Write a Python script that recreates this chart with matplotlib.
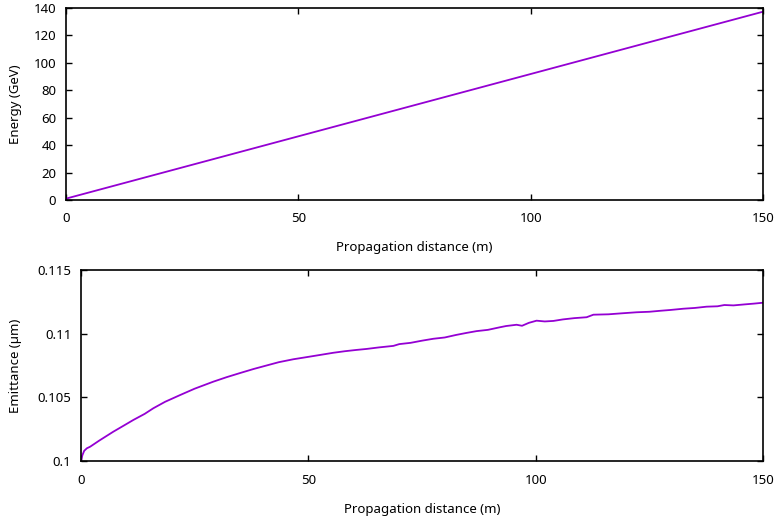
import matplotlib

matplotlib.use("Agg")

import matplotlib.pyplot as plt
from matplotlib.transforms import blended_transform_factory

plt.rcParams["font.family"] = ["Noto Sans", "DejaVu Sans"]

LINE_COLOR = "#9400D3"

# energy gain along the propagation
energy_distance = [0, 150]
energy_gev = [1.0, 137.3]

# emittance growth
emit_distance = [
    0.0, 0.3, 0.7, 1.3, 2.0, 4.0, 7.1, 9.5, 11.5, 14.0, 15.9, 18.5, 21.8, 25.0,
    29.1, 32.0, 35.0, 38.0, 40.8, 43.5, 46.7, 49.5, 52.6, 55.5, 58.0, 60.5,
    62.8, 65.5, 68.7, 70.0, 72.5, 75.0, 77.5, 80.0, 82.5, 84.8, 87.0, 89.5,
    92.1, 93.5, 95.8, 97.0, 98.5, 100.2, 102.0, 103.9, 106.0, 108.5, 111.2,
    112.7, 116.0, 119.0, 122.2, 125.0, 127.5, 129.6, 132.5, 135.0, 137.6,
    140.0, 141.5, 143.5, 146.0, 148.0, 150.0,
]
emit_um = [
    0.1000, 0.10045, 0.10080, 0.10100, 0.10112, 0.10160, 0.10230, 0.10280,
    0.10322, 0.10370, 0.10414, 0.10465, 0.10518, 0.10568, 0.10623, 0.10658,
    0.10691, 0.10723, 0.10750, 0.10776, 0.10799, 0.10815, 0.10833, 0.10850,
    0.10862, 0.10872, 0.10880, 0.10892, 0.10904, 0.10918, 0.10928, 0.10945,
    0.10960, 0.10970, 0.10990, 0.11006, 0.11020, 0.11030, 0.11050, 0.11060,
    0.11070, 0.11062, 0.11085, 0.11102, 0.11096, 0.11100, 0.11112, 0.11122,
    0.11129, 0.11149, 0.11152, 0.11160, 0.11168, 0.11172, 0.11180, 0.11186,
    0.11196, 0.11202, 0.11212, 0.11215, 0.11225, 0.11222, 0.11230, 0.11236,
    0.11243,
]

energy_yticks = [0, 20, 40, 60, 80, 100, 120, 140]
emit_yticks = [0.1, 0.105, 0.11, 0.115]
emit_yticklabels = ["0.1", "0.105", "0.11", "0.115"]
x_ticks = [0, 50, 100, 150]

W, H = 779, 517
fig = plt.figure(figsize=(W / 100, H / 100), dpi=100)


def px_axes(left, top, right, bottom):
    return fig.add_axes([left / W, 1 - bottom / H, (right - left) / W, (bottom - top) / H])


def style(ax):
    for spine in ax.spines.values():
        spine.set_linewidth(1.2)
        spine.set_color("black")
    ax.tick_params(direction="in", length=4.5, width=1.0, top=True, right=True,
                   labelsize=9.5, colors="black", pad=7)
    ax.tick_params(axis="x", pad=9)


def place_labels(ax, xlabel_y_px):
    # x label: centred on the axes, fixed height in the figure
    ax.xaxis.set_label_coords(0.5, 1 - xlabel_y_px / H,
                              transform=blended_transform_factory(ax.transAxes, fig.transFigure))
    # y label: same figure x for both panels
    ax.yaxis.set_label_coords(15 / W, 0.5,
                              transform=blended_transform_factory(fig.transFigure, ax.transAxes))
    ax.yaxis.label.set_verticalalignment("center")


ax1 = px_axes(66, 8, 763, 200)
ax1.plot(energy_distance, energy_gev, color=LINE_COLOR, linewidth=1.3)
ax1.set_xlim(0, 150)
ax1.set_ylim(0, 140)
ax1.set_xticks(x_ticks)
ax1.set_yticks(energy_yticks)
style(ax1)
ax1.set_xlabel("Propagation distance (m)", fontsize=9.5)
ax1.set_ylabel("Energy (GeV)", fontsize=9.5)
place_labels(ax1, 241)

ax2 = px_axes(81, 270, 763, 461)
ax2.plot(emit_distance, emit_um, color=LINE_COLOR, linewidth=1.3)
ax2.set_xlim(0, 150)
ax2.set_ylim(0.1, 0.115)
ax2.set_xticks(x_ticks)
ax2.set_yticks(emit_yticks)
ax2.set_yticklabels(emit_yticklabels)
style(ax2)
ax2.set_xlabel("Propagation distance (m)", fontsize=9.5)
ax2.set_ylabel("Emittance (µm)", fontsize=9.5)
place_labels(ax2, 503)

fig.savefig("out.png", dpi=100)
